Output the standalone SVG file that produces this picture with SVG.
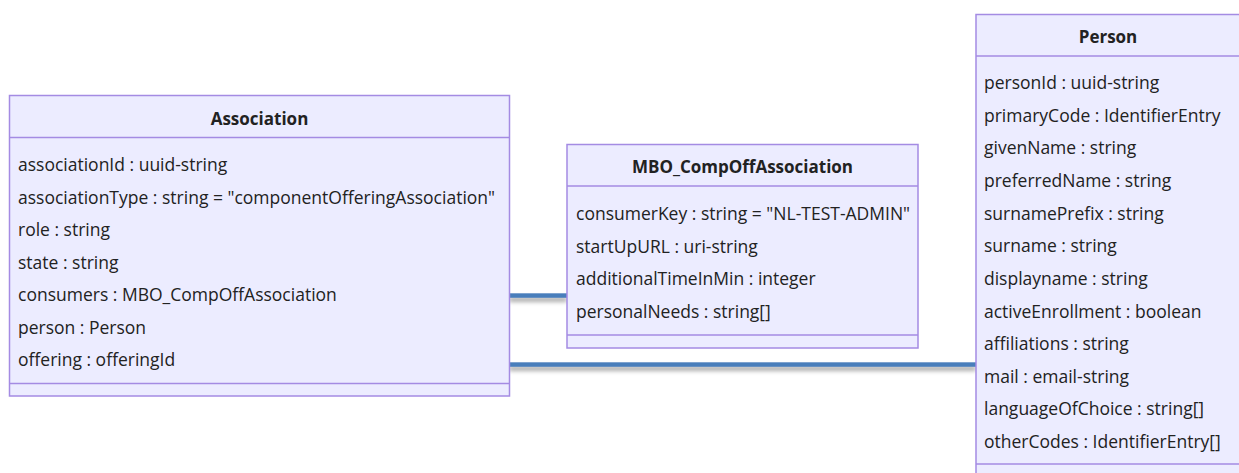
<svg xmlns="http://www.w3.org/2000/svg" width="1239" height="473" viewBox="0 0 1239 473">
<defs>
<style>
.box{fill:#ECECFF;stroke:#A48BE3;stroke-width:1.5}
.sep{stroke:#A48BE3;stroke-width:1.5}
.t{font-family:"Open Sans","Liberation Sans",sans-serif;font-size:17.5px;fill:#222}
.h{font-family:"Open Sans","Liberation Sans",sans-serif;font-size:17px;font-weight:bold;fill:#222;text-anchor:middle}
.edge{fill:#4A7EBB;filter:url(#sh)}
</style>
<filter id="sh" filterUnits="userSpaceOnUse" x="0" y="0" width="1239" height="473">
<feDropShadow dx="0" dy="4" stdDeviation="2" flood-color="#000" flood-opacity="0.35"/>
</filter>
</defs>
<rect width="1239" height="473" fill="#fff"/>
<g id="connectors">
<rect class="edge" x="509" y="293.3" width="58" height="4.5"/>
<rect class="edge" x="509" y="362.3" width="467" height="4.5"/>
</g>
<g id="Association">
<rect class="box" x="9.5" y="95.5" width="500" height="300.5"/>
<line class="sep" x1="9.5" y1="137.5" x2="509.5" y2="137.5"/>
<line class="sep" x1="9.5" y1="383.5" x2="509.5" y2="383.5"/>
<text class="h" x="259.5" y="125">Association</text>
<text class="t" x="18" y="171">associationId : uuid-string</text>
<text class="t" x="18" y="203.5">associationType : string = "componentOfferingAssociation"</text>
<text class="t" x="18" y="236">role : string</text>
<text class="t" x="18" y="268.5">state : string</text>
<text class="t" x="18" y="301">consumers : MBO_CompOffAssociation</text>
<text class="t" x="18" y="333.5">person : Person</text>
<text class="t" x="18" y="366">offering : offeringId</text>
</g>
<g id="MBO_CompOffAssociation">
<rect class="box" x="567" y="144.5" width="351" height="203.5"/>
<line class="sep" x1="567" y1="186" x2="918" y2="186"/>
<line class="sep" x1="567" y1="335" x2="918" y2="335"/>
<text class="h" x="742.5" y="173">MBO_CompOffAssociation</text>
<text class="t" x="576" y="220">consumerKey : string = "NL-TEST-ADMIN"</text>
<text class="t" x="576" y="252.7">startUpURL : uri-string</text>
<text class="t" x="576" y="285.3">additionalTimeInMin : integer</text>
<text class="t" x="576" y="318">personalNeeds : string[]</text>
</g>
<g id="Person">
<rect class="box" x="976" y="14.5" width="270" height="470"/>
<line class="sep" x1="976" y1="56" x2="1246" y2="56"/>
<line class="sep" x1="976" y1="464" x2="1246" y2="464"/>
<text class="h" x="1108" y="43">Person</text>
<text class="t" x="984" y="89">personId : uuid-string</text>
<text class="t" x="984" y="121.6">primaryCode : IdentifierEntry</text>
<text class="t" x="984" y="154.3">givenName : string</text>
<text class="t" x="984" y="186.9">preferredName : string</text>
<text class="t" x="984" y="219.6">surnamePrefix : string</text>
<text class="t" x="984" y="252.2">surname : string</text>
<text class="t" x="984" y="284.8">displayname : string</text>
<text class="t" x="984" y="317.5">activeEnrollment : boolean</text>
<text class="t" x="984" y="350.1">affiliations : string</text>
<text class="t" x="984" y="382.8">mail : email-string</text>
<text class="t" x="984" y="415.4">languageOfChoice : string[]</text>
<text class="t" x="984" y="448">otherCodes : IdentifierEntry[]</text>
</g>
</svg>
